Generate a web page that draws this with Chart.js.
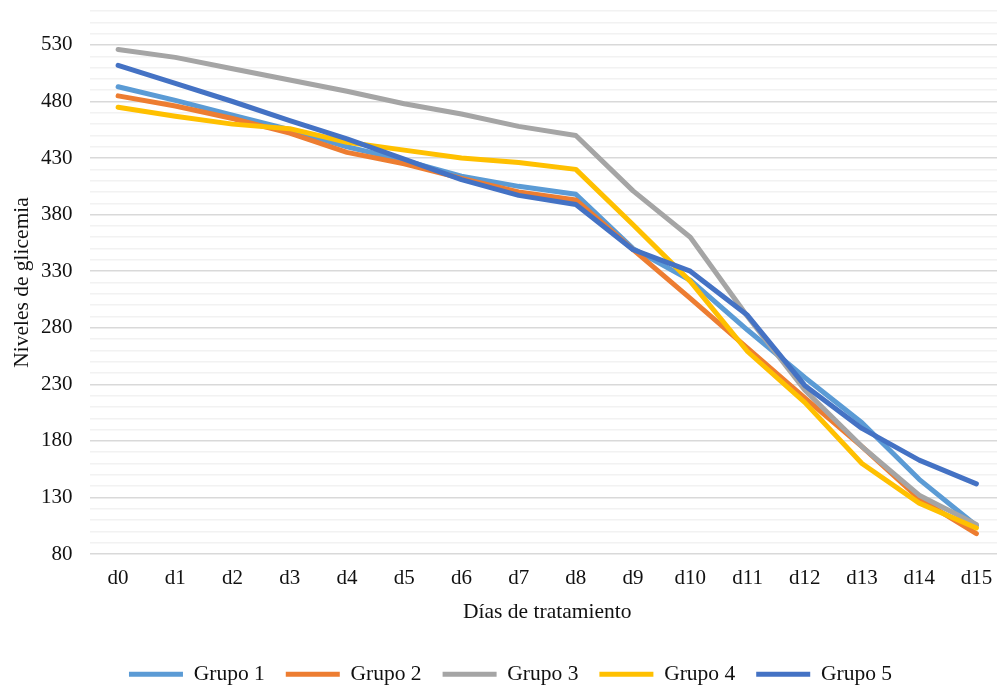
<!DOCTYPE html>
<html lang="es">
<head>
  <meta charset="UTF-8" />
  <title>Niveles de glicemia por grupo</title>
  <script src="https://cdn.jsdelivr.net/npm/chart.js"></script>
  <style>
    html, body {
      margin: 0;
      padding: 0;
      background: #ffffff;
      overflow: hidden;
    }
    #wrap {
      width: 1005px;
      height: 688px;
      position: relative;
    }
  </style>
</head>
<body>
  <div id="wrap"><canvas id="chart"></canvas></div>
  <script>
    const days = ["d0","d1","d2","d3","d4","d5","d6","d7","d8","d9","d10","d11","d12","d13","d14","d15"];
    const seriesNames = ["Grupo 1", "Grupo 2", "Grupo 3", "Grupo 4", "Grupo 5"];
    const grupo1 = [493, 481, 468, 455, 440, 428, 414, 405, 398, 350, 322, 278, 236, 196, 146, 105];
    const grupo2 = [485, 476, 465, 452, 435, 425, 412, 400, 393, 349, 306, 262, 218, 175, 129, 98];
    const grupo3 = [526, 519, 509, 499, 489, 478, 469, 458, 450, 401, 360, 290, 225, 175, 132, 106];
    const grupo4 = [475, 467, 460, 456, 444, 437, 430, 426, 420, 371, 321, 259, 214, 160, 125, 103];
    const grupo5 = [512, 496, 480, 463, 447, 429, 411, 397, 389, 349, 330, 291, 229, 191, 163, 142];
    const yMin = 80, yMax = 560, yStep = 10, yLabelStep = 50;

    const colors = ["#5B9BD5", "#ED7D31", "#A5A5A5", "#FFC000", "#4472C4"];
    const allSeries = [grupo1, grupo2, grupo3, grupo4, grupo5];
    const tickFont = { family: "'Liberation Serif', 'Times New Roman', serif", size: 21 };
    const textFont = { family: "'Liberation Serif', 'Times New Roman', serif", size: 21.5 };

    const datasets = allSeries.map((values, i) => ({
      label: seriesNames[i],
      data: values,
      borderColor: colors[i],
      backgroundColor: colors[i],
      borderWidth: 5,
      borderCapStyle: "round",
      borderJoinStyle: "round",
      pointRadius: 0,
      tension: 0,
      fill: false,
      order: allSeries.length - i  // later groups drawn on top, like Excel
    }));

    new Chart(document.getElementById("chart"), {
      type: "line",
      data: { labels: days, datasets },
      options: {
        responsive: true,
        maintainAspectRatio: false,
        animation: false,
        // left padding nudges the centred legend right; y axis width compensates
        layout: { padding: { top: 11, left: 16, right: 0, bottom: -7 } },
        plugins: {
          tooltip: { enabled: false },
          legend: {
            position: "bottom",
            labels: {
              usePointStyle: true,
              pointStyle: "line",
              pointStyleWidth: 54,
              padding: 21,
              color: "#111",
              font: textFont,
              sort: (a, b) => a.datasetIndex - b.datasetIndex
            }
          }
        },
        scales: {
          x: {
            offset: true,
            grid: { display: false },
            border: { display: false },
            ticks: { color: "#111", font: tickFont, padding: 4 },
            title: {
              display: true,
              text: "Días de tratamiento",
              color: "#111",
              font: textFont,
              padding: { top: 0, bottom: 17 }
            },
            afterFit: s => { s.height = 88.5; }
          },
          y: {
            min: yMin,
            max: yMax,
            border: { display: false },
            grid: {
              drawTicks: false,
              color: ctx => ((ctx.tick.value - yMin) % yLabelStep === 0 ? "#d9d9d9" : "#f2f2f2"),
              lineWidth: 1.5
            },
            ticks: {
              stepSize: yStep,
              padding: 17,
              color: "#111",
              font: tickFont,
              autoSkip: false,
              callback: v => ((v - yMin) % yLabelStep === 0 && v <= 530 ? v : "")
            },
            title: {
              display: true,
              text: "Niveles de glicemia",
              color: "#111",
              font: textFont,
              padding: { top: -7, bottom: 0 }
            },
            afterFit: s => {
              s.width = 73.5;
              s.paddingTop = 0;
              s.paddingBottom = 0;
            }
          }
        }
      }
    });
  </script>
</body>
</html>
